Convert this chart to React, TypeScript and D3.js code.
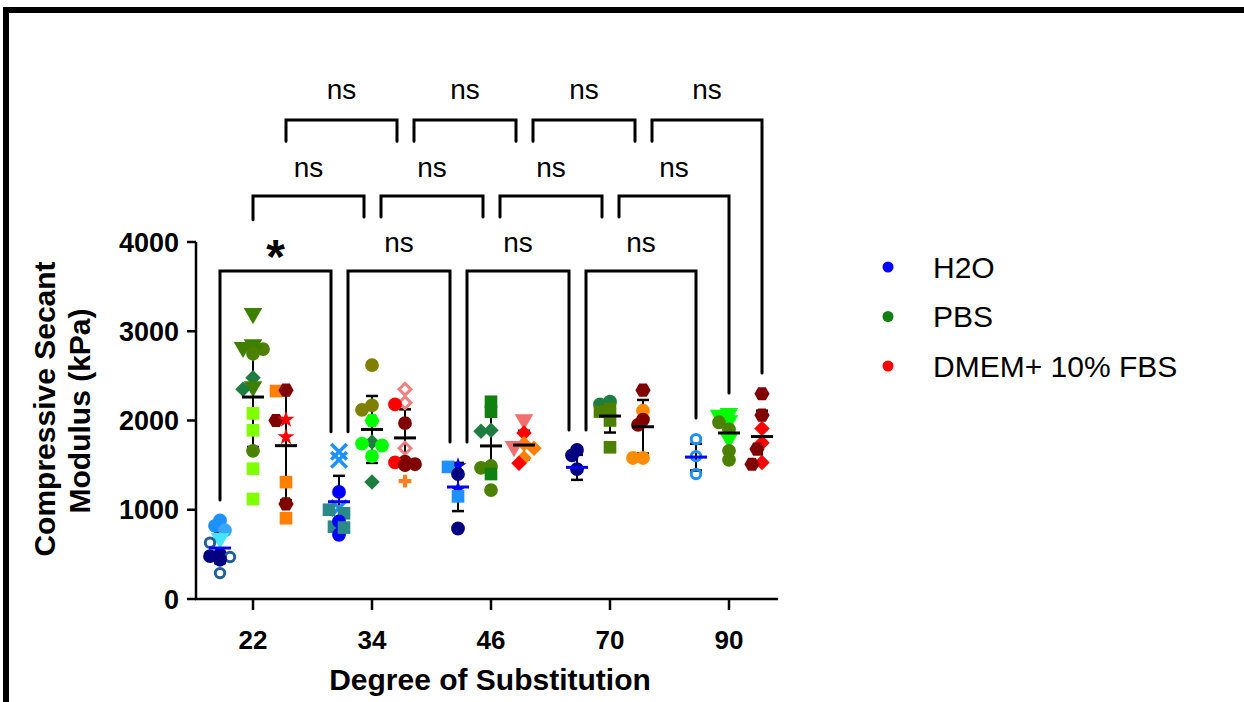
import React from "react";
import * as d3 from "d3";

// ---------- data ----------
const categories = ["22", "34", "46", "70", "90"];
const media = ["H2O", "PBS", "DMEM+ 10% FBS"];
const legendColors = ["#0000ff", "#118011", "#ff0000"];
const yTicks = [0, 1000, 2000, 3000, 4000];

const h2oValues = [
  [880, 820, 770, 680, 630, 500, 470, 440, 480, 290],
  [1650, 1560, 1200, 1020, 1000, 960, 810, 870, 720, 800],
  [1490, 1480, 1400, 1230, 1150, 790],
  [1670, 1610, 1455],
  [1790, 1600, 1400],
];
const pbsValues = [
  [3200, 2850, 2820, 2800, 2780, 2750, 2480, 2380, 2350, 2080, 1890, 1660, 1460, 1120],
  [2620, 2170, 2120, 2000, 1760, 1740, 1720, 1600, 1310],
  [2210, 2100, 1890, 1880, 1490, 1470, 1400, 1220],
  [2210, 2180, 2130, 2100, 2000, 1700],
  [2080, 2060, 2000, 1980, 1900, 1800, 1660, 1560],
];
const dmemValues = [
  [2330, 2340, 2000, 2010, 1815, 1310, 1065, 905],
  [2350, 2200, 2180, 1970, 1690, 1540, 1510, 1530, 1500, 1320],
  [2010, 1860, 1740, 1710, 1690, 1580, 1520],
  [2340, 2110, 2010, 1950, 1580, 1580],
  [2300, 2060, 1910, 1750, 1680, 1530, 1510],
];

const h2oMean = [571, 1090, 1255, 1475, 1590];
const h2oSD = [170, 290, 270, 140, 150];
const pbsMean = [2263, 1900, 1715, 2050, 1860];
const pbsSD = [560, 375, 330, 185, 180];
const dmemMean = [1718, 1805, 1725, 1930, 1820];
const dmemSD = [610, 320, 160, 300, 290];

// significance annotations
const bracketLevels = [3675, 4515, 5367];
const bracketLabels = [
  ["*", "ns", "ns", "ns"],
  ["ns", "ns", "ns", "ns"],
  ["ns", "ns", "ns", "ns"],
];
const bracketLegEnds = [
  [[1110, 1875], [1875, 1760], [1760, 1893], [1893, 2028]],
  [[4250, 4280], [4280, 4280], [4280, 4280], [4280, 2308]],
  [[5130, 5130], [5130, 5130], [5130, 5130], [5130, 2532]],
];

// ---------- marker styles (shape:color) ----------
const h2oMarkers = [
  ["c:#1e90ff", "c:#1e90ff", "c:#3aa6ff", "t:#44e4ff", "o:#1f5f9f", "c:#000080", "o:#1f5f9f", "c:#000080", "c:#000080", "o:#1f5f9f"],
  ["x:#1e90ff", "x:#1e90ff", "c:#0000ff", "x:#1e90ff", "s:#2a8a8a", "s:#2a8a8a", "s:#2a8a8a", "c:#0000ff", "c:#0000ff", "s:#2a8a8a"],
  ["st:#0000ff", "s:#1e90ff", "c:#000080", "st:#0000ff", "s:#1e90ff", "c:#000080"],
  ["c:#000080", "c:#000080", "c:#000080"],
  ["o:#1e90ff", "o:#1e90ff", "o:#1e90ff"],
];
const pbsMarkers = [
  ["t:#3f7f00", "t:#3f7f00", "t:#3f7f00", "c:#4b8000", "t:#3f7f00", "c:#4b8000", "d:#1e7d40", "t:#3f7f00", "d:#1e7d40", "s:#80ff00", "s:#80ff00", "c:#4b8000", "s:#80ff00", "s:#80ff00"],
  ["c:#808000", "c:#808000", "c:#808000", "h:#00ff00", "d:#1e7d40", "c:#00ff00", "c:#00ff00", "c:#00ff00", "d:#1e7d40"],
  ["s:#108010", "s:#108010", "d:#1e7d40", "d:#1e7d40", "c:#4b8000", "c:#4b8000", "s:#108010", "c:#4b8000"],
  ["c:#1e7d40", "c:#1e7d40", "s:#4b8000", "s:#4b8000", "s:#4b8000", "s:#4b8000"],
  ["t:#00ff00", "t:#00ff00", "t:#00ff00", "c:#4b8000", "c:#4b8000", "t:#00ff00", "c:#4b8000", "c:#4b8000"],
];
const dmemMarkers = [
  ["s:#ff8000", "h:#800000", "h:#800000", "st:#ff0000", "st:#ff0000", "s:#ff8000", "h:#800000", "s:#ff8000"],
  ["od:#f08080", "od:#f08080", "c:#ff0000", "c:#800000", "od:#f08080", "c:#800000", "c:#800000", "c:#ff0000", "c:#800000", "p:#ff8020"],
  ["t:#f07070", "d:#ff0000", "d:#ff8000", "t:#f07070", "d:#ff8000", "d:#ff8000", "d:#ff0000"],
  ["h:#800000", "c:#ff8c00", "c:#800000", "c:#800000", "c:#ff8c00", "c:#ff8c00"],
  ["h:#800000", "h:#800000", "d:#ff0000", "d:#ff0000", "h:#800000", "d:#ff0000", "h:#800000"],
];

const seriesValues = [h2oValues, pbsValues, dmemValues];
const seriesMarkers = [h2oMarkers, pbsMarkers, dmemMarkers];
const seriesMean = [h2oMean, pbsMean, dmemMean];
const seriesSD = [h2oSD, pbsSD, dmemSD];

// ---------- layout ----------
const W = 1244;
const H = 702;
const FONT = "'Liberation Sans', Arial, Helvetica, sans-serif";

const yScale = d3.scaleLinear().domain([0, 4000]).range([599, 242]);
const xCat = d3.scalePoint<string>().domain(categories).range([253, 729]);
const xMed = d3.scalePoint<string>().domain(media).range([-33, 33]);
const AXIS_X0 = 196;
const AXIS_X1 = 778;

const symbolHexagon = {
  draw(context: any, size: number) {
    const r = Math.sqrt(size / (1.5 * Math.sqrt(3)));
    for (let i = 0; i < 6; i++) {
      const a = (Math.PI / 3) * i;
      const x = r * Math.cos(a);
      const y = r * Math.sin(a);
      if (i === 0) context.moveTo(x, y);
      else context.lineTo(x, y);
    }
    context.closePath();
  },
};

function markerPath(shape: string): { d: string; rotate: number; filled: boolean; sw: number } {
  switch (shape) {
    case "c":
      return { d: d3.symbol(d3.symbolCircle, 150)()!, rotate: 0, filled: true, sw: 0 };
    case "o":
      return { d: d3.symbol(d3.symbolCircle, 70)()!, rotate: 0, filled: false, sw: 3 };
    case "s":
      return { d: d3.symbol(d3.symbolSquare, 160)()!, rotate: 0, filled: true, sw: 0 };
    case "d":
      return { d: d3.symbol(d3.symbolSquare, 120)()!, rotate: 45, filled: true, sw: 0 };
    case "od":
      return { d: d3.symbol(d3.symbolSquare, 70)()!, rotate: 45, filled: false, sw: 3 };
    case "t":
      return { d: d3.symbol(d3.symbolTriangle, 150)()!, rotate: 180, filled: true, sw: 0 };
    case "h":
      return { d: d3.symbol(symbolHexagon as any, 150)()!, rotate: 0, filled: true, sw: 0 };
    case "st":
      return { d: d3.symbol(d3.symbolStar, 90)()!, rotate: 0, filled: true, sw: 0 };
    case "x":
      return { d: d3.symbol(d3.symbolTimes, 160)()!, rotate: 0, filled: false, sw: 3.5 };
    case "p":
      return { d: d3.symbol(d3.symbolCross, 90)()!, rotate: 0, filled: true, sw: 0 };
    default:
      return { d: d3.symbol(d3.symbolCircle, 150)()!, rotate: 0, filled: true, sw: 0 };
  }
}

// deterministic side-by-side placement for points that would overlap
function swarm(vals: number[], cx: number) {
  const placed: { x: number; y: number }[] = [];
  const order = vals.map((_, k) => k).sort((a, b) => vals[b] - vals[a]);
  const out: { x: number; y: number }[] = new Array(vals.length);
  const offsets = [0, -5, 5, -10, 10, -13, 13];
  for (const k of order) {
    const y = yScale(vals[k]);
    let chosen = cx;
    for (const off of offsets) {
      const x = cx + off;
      if (placed.every((p) => Math.hypot(p.x - x, p.y - y) >= 7)) {
        chosen = x;
        break;
      }
    }
    placed.push({ x: chosen, y });
    out[k] = { x: chosen, y };
  }
  return out;
}

export default function App() {
  const points: JSX.Element[] = [];
  const whiskers: JSX.Element[] = [];
  const means: JSX.Element[] = [];

  categories.forEach((cat, i) => {
    media.forEach((m, j) => {
      const cx = (xCat(cat) as number) + (xMed(m) as number);
      const vals = seriesValues[j][i];
      const marks = seriesMarkers[j][i];
      const pos = swarm(vals, cx);
      vals.forEach((v, k) => {
        const [shape, color] = marks[k].split(":");
        const mp = markerPath(shape);
        points.push(
          <path
            key={`p-${i}-${j}-${k}`}
            d={mp.d}
            transform={`translate(${pos[k].x},${pos[k].y}) rotate(${mp.rotate})`}
            fill={mp.filled ? color : "none"}
            stroke={mp.filled ? "none" : color}
            strokeWidth={mp.sw}
          />
        );
      });
      const mean = seriesMean[j][i];
      const sd = seriesSD[j][i];
      const yTop = yScale(mean + sd);
      const yBot = yScale(mean - sd);
      const yM = yScale(mean);
      whiskers.push(
        <g key={`w-${i}-${j}`}>
          <line x1={cx} x2={cx} y1={yTop} y2={yBot} stroke="#000" strokeWidth={2} />
          <line x1={cx - 6} x2={cx + 6} y1={yTop} y2={yTop} stroke="#000" strokeWidth={2.5} />
          <line x1={cx - 6} x2={cx + 6} y1={yBot} y2={yBot} stroke="#000" strokeWidth={2.5} />
        </g>
      );
      means.push(
        <line
          key={`m-${i}-${j}`}
          x1={cx - 11}
          x2={cx + 11}
          y1={yM}
          y2={yM}
          stroke={j === 0 ? "#0000ff" : "#000"}
          strokeWidth={3}
        />
      );
    });
  });

  const brackets: JSX.Element[] = [];
  bracketLevels.forEach((lvl, L) => {
    const m = media[L];
    const yLine = yScale(lvl);
    for (let k = 0; k < categories.length - 1; k++) {
      const xl = (xCat(categories[k]) as number) + (xMed(m) as number) + (k > 0 ? 9 : 0);
      const xr = (xCat(categories[k + 1]) as number) + (xMed(m) as number) - (k < categories.length - 2 ? 8 : 0);
      const [bl, br] = bracketLegEnds[L][k];
      const label = bracketLabels[L][k];
      brackets.push(
        <g key={`br-${L}-${k}`}>
          <path
            d={`M${xl},${yScale(bl)} L${xl},${yLine} L${xr},${yLine} L${xr},${yScale(br)}`}
            fill="none"
            stroke="#000"
            strokeWidth={3}
            strokeLinecap="round"
          />
          {label === "*" ? (
            <text
              x={(xl + xr) / 2}
              y={yLine + 2}
              textAnchor="middle"
              fontFamily={FONT}
              fontWeight="bold"
              fontSize={48}
              fill="#000"
            >
              *
            </text>
          ) : (
            <text
              x={(xl + xr) / 2}
              y={yLine - 19 - (L === 2 ? 2 : 0)}
              textAnchor="middle"
              fontFamily={FONT}
              fontSize={28}
              fill="#000"
            >
              {label}
            </text>
          )}
        </g>
      );
    }
  });

  return (
    <svg
      width={W}
      height={H}
      style={{ position: "absolute", left: 0, top: 0, background: "#fff" }}
    >
      <rect x={0} y={0} width={W} height={H} fill="#fff" />
      {/* frame */}
      <rect x={3} y={7} width={W - 3} height={6} fill="#000" />
      <rect x={3} y={7} width={6} height={H - 7} fill="#000" />

      {/* y axis */}
      <line x1={AXIS_X0} x2={AXIS_X0} y1={yScale(4000)} y2={yScale(0)} stroke="#000" strokeWidth={2.5} />
      {yTicks.map((t) => (
        <g key={`yt-${t}`}>
          <line x1={AXIS_X0 - 9} x2={AXIS_X0} y1={yScale(t)} y2={yScale(t)} stroke="#000" strokeWidth={2.5} />
          <text
            x={AXIS_X0 - 17}
            y={yScale(t) + 9.5}
            textAnchor="end"
            fontFamily={FONT}
            fontWeight="bold"
            fontSize={27}
            fill="#000"
          >
            {t}
          </text>
        </g>
      ))}

      {/* x axis */}
      <line x1={AXIS_X0 - 1} x2={AXIS_X1} y1={yScale(0)} y2={yScale(0)} stroke="#000" strokeWidth={2.5} />
      {categories.map((c) => (
        <g key={`xt-${c}`}>
          <line x1={xCat(c)} x2={xCat(c)} y1={yScale(0)} y2={yScale(0) + 11} stroke="#000" strokeWidth={2.5} />
          <text
            x={xCat(c)}
            y={yScale(0) + 50}
            textAnchor="middle"
            fontFamily={FONT}
            fontWeight="bold"
            fontSize={26}
            fill="#000"
          >
            {c}
          </text>
        </g>
      ))}

      {/* axis titles */}
      <text
        x={490}
        y={690}
        textAnchor="middle"
        fontFamily={FONT}
        fontWeight="bold"
        fontSize={30}
        fill="#000"
      >
        Degree of Substitution
      </text>
      <text
        transform="translate(55,409) rotate(-90)"
        textAnchor="middle"
        fontFamily={FONT}
        fontWeight="bold"
        fontSize={30}
        fill="#000"
      >
        Compressive Secant
      </text>
      <text
        transform="translate(90,411) rotate(-90)"
        textAnchor="middle"
        fontFamily={FONT}
        fontWeight="bold"
        fontSize={30}
        fill="#000"
      >
        Modulus (kPa)
      </text>

      {/* data */}
      <g>{whiskers}</g>
      <g>{points}</g>
      <g>{means}</g>
      <g>{brackets}</g>

      {/* legend */}
      {media.map((m, j) => (
        <g key={`lg-${j}`} transform={`translate(888,${267 + j * 49.5})`}>
          <circle r={5.5} fill={legendColors[j]} />
          <text x={45} y={10.5} fontFamily={FONT} fontSize={30} fill="#000">
            {m}
          </text>
        </g>
      ))}
    </svg>
  );
}
